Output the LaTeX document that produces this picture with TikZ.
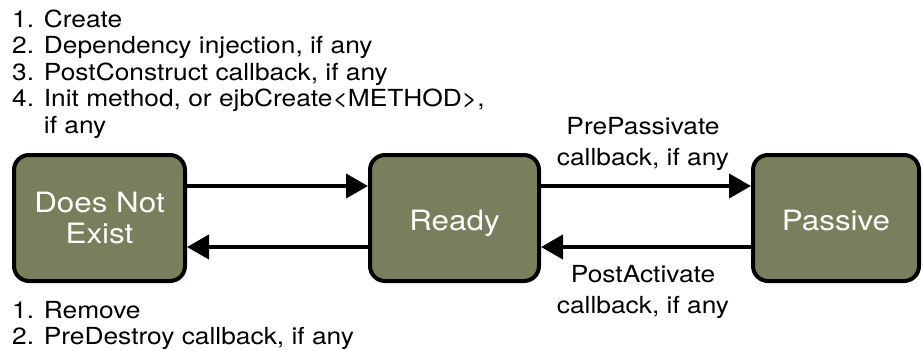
\documentclass[tikz,border=0pt]{standalone}
\usepackage{fontspec}
\setmainfont{TeX Gyre Heros}[FakeStretch=1.12]
\usetikzlibrary{arrows.meta}
\definecolor{boxgreen}{HTML}{777F5C}
\begin{document}
\begin{tikzpicture}[x=1pt,y=-1pt,
  state/.style={draw=black, line width=4pt, fill=boxgreen, rounded corners=15pt,
    minimum height=126pt, text=white, font=\fontsize{28}{31}\selectfont,
    align=center, inner sep=0pt},
  oneline/.style={text height=25pt, text depth=0pt},
  smalltext/.style={font=\fontsize{23.5}{26.5}\selectfont, align=left, inner sep=0pt},
  edgetext/.style={font=\fontsize{23.5}{31}\selectfont, align=center, inner sep=0pt},
  arr/.style={line width=4pt, -{Triangle[length=22pt,width=24pt]}}]
\useasboundingbox (0,0) rectangle (923,349);
\node[state, minimum width=171pt] (dne) at (99.5,218) {Does Not\\Exist};
\node[state, oneline, minimum width=169pt] (ready) at (454.5,218) {Ready};
\node[state, oneline, minimum width=166pt] (passive) at (836,218) {Passive};
\node[smalltext, anchor=north west] (create) at (12,9.5)
  {1. Create\\2. Dependency injection, if any\\3. PostConstruct callback, if any\\4. Init method, or ejbCreate<METHOD>,\\\phantom{4. }if any};
\node[smalltext, anchor=north west] (remove) at (12,301)
  {1. Remove\\2. PreDestroy callback, if any};
\node[edgetext, anchor=north] (prepass) at (643,117) {PrePassivate\\callback, if any};
\node[edgetext, anchor=north] (postact) at (643,265) {PostActivate\\callback, if any};
\draw[arr] (dne.east |- 0,186) -- (ready.west |- 0,186);
\draw[arr] (ready.west |- 0,247) -- (dne.east |- 0,247);
\draw[arr] (ready.east |- 0,186) -- (passive.west |- 0,186);
\draw[arr] (passive.west |- 0,247) -- (ready.east |- 0,247);
\end{tikzpicture}
\end{document}
